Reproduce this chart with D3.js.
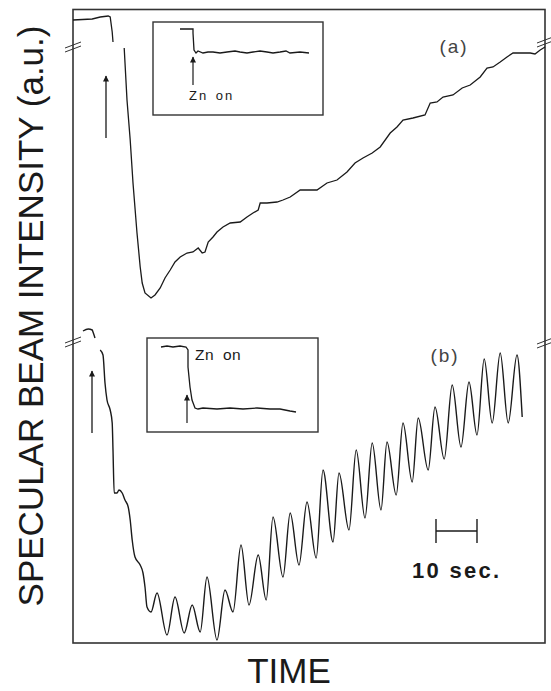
<!DOCTYPE html>
<html>
<head>
<meta charset="utf-8">
<script src="https://cdn.jsdelivr.net/npm/d3@7"></script>
<style>
  body { margin: 0; background: #fff; }
  text { font-family: "Liberation Sans", Arial, sans-serif; }
</style>
</head>
<body>
<div id="chart-area"></div>
<script>
// trace (a): time in sec, intensity in a.u. (null = gap in the recorded line)
var timeA = [0, 4.8, 6.8, 8.8, 9.3, 9.8, 10, 11, 12.8, 13.5, 14.3, 15, 16, 16.8, 17.3, 18,
  19.5, 20.5, 21.8, 23, 24.3, 25.5, 26.8, 28.5, 30, 31.3, 32.3, 33, 33.8, 35, 36, 37.5, 39.3, 41.8,
  43.5, 45, 46.3, 46.8, 48.5, 51, 52.5, 54.3, 56.8, 61, 63.5, 66, 68.5, 70.5, 72.5, 74.8, 76.8, 79.3,
  81, 82.5, 85, 88, 89.3, 91, 92.5, 95, 97.3, 99.3, 101.8, 103.5, 105, 106.8, 108.5, 110, 111.8, 114.3,
  115.5, 116.8, 118]
var intensityA = [290, 291, 293, 294, 293, 278, 268, null, 262, 210, 170, 127, 77, 43, 27, 17,
  12, 15, 22, 32, 40, 48, 53, 57, 58, 62, 57, 58, 68, 73, 78, 83, 87, 88,
  93, 97, 100, 107, 107, 108, 110, 113, 120, 120, 127, 130, 138, 147, 152, 157, 163, 177,
  183, 190, 192, 195, 207, 208, 213, 215, 222, 225, 233, 242, 243, 248, 253, 257, 257, 257,
  256, 260, 263]

// trace (b)
var timeB = [2.5, 3.8, 4.8, 5, 5.5, 6.2, 6.8, 7.5, 8, 8.5, 9.3, 9.8, 10, 10.3,
  11, 11.5, 12.3, 13, 13.8, 14.3, 14.8, 15.5, 16.8, 17.5, 18, 18.5, 19.5,
  21, 23.5, 25.5, 27.8, 29.8, 31.8, 33.5, 36, 38, 40,
  42, 44, 46.3, 48.3, 50, 52.5, 54.3, 56.5, 58.5, 60.8,
  62.5, 65, 66.5, 69, 70.8, 73, 74.8, 77, 78.5, 80.8,
  82.5, 84.8, 86.3, 88.8, 90.5, 92.8, 94.8, 97, 99, 101,
  102.8, 104.8, 106.8, 108.8, 111, 112.3]
var intensityB = [312, 314, 313, 311, 305, null, 293, 288, 260, 243, 233, 220, 193, 150,
  150, 153, 150, 143, 136, 123, 103, 86, 78, 70, 56, 36, 31,
  50, 8, 46, 10, 38, 11, 66, 3, 53, 31,
  98, 38, 88, 43, 126, 66, 130, 78, 141, 85,
  173, 101, 170, 113, 193, 125, 200, 133, 201, 148,
  220, 161, 225, 173, 236, 184, 258, 196, 261, 208,
  284, 220, 290, 220, 288, 226]

// insets
var insetTimeA = [27, 40, 40, 41, 43, 45, 50, 55, 60, 67, 74, 82, 87, 94, 100, 107, 114, 120, 127, 133, 137, 147, 156]
var insetIntensityA = [86, 86, 82, 65, 62, 64, 62, 63, 63, 62, 63, 64, 63, 62, 63, 64, 63, 62, 63, 64, 62, 63, 62]
var insetTimeB = [14, 20, 26, 33, 39, 41, 41, 43, 45, 48, 51, 56, 70, 83, 96, 110, 123, 133, 143, 149]
var insetIntensityB = [85, 86, 85, 86, 85, 82, 65, 45, 32, 24, 23, 24, 23, 24, 23, 24, 23, 23, 21, 20]

var panelLabels = ["(a)", "(b)"]
var insetLabel = "Zn on"
var scaleLabel = "10 sec."
var yLabel = "SPECULAR BEAM INTENSITY (a.u.)"
var xLabel = "TIME"

var W = 551, H = 691
var frame = { left: 73, right: 545, top: 9.5, bottom: 643 }
var ink = "#1a1a1a"

var svg = d3.select("#chart-area")
  .append("svg")
  .attr("width", W)
  .attr("height", H)

svg.append("rect").attr("width", W).attr("height", H).attr("fill", "#fff")

// arrow head
svg.append("defs").append("marker")
  .attr("id", "head")
  .attr("viewBox", "0 0 10 10")
  .attr("refX", 9).attr("refY", 5)
  .attr("markerWidth", 7).attr("markerHeight", 6)
  .attr("markerUnits", "userSpaceOnUse")
  .attr("orient", "auto")
  .append("path")
  .attr("d", "M0,0L10,5L0,10Z")
  .attr("fill", ink)

var x = d3.scaleLinear().domain([0, 118]).range([frame.left, frame.right])
var yA = d3.scaleLinear().domain([0, 300]).range([310, 10])
var yB = d3.scaleLinear().domain([0, 320]).range([643, 323])

// frame
svg.append("rect")
  .attr("x", frame.left).attr("y", frame.top)
  .attr("width", frame.right - frame.left)
  .attr("height", frame.bottom - frame.top)
  .attr("fill", "none")
  .attr("stroke", "#333")
  .attr("stroke-width", 1.6)

// axis break marks
function breakMark(bx, by) {
  [0, 4].forEach(function(off) {
    svg.append("line")
      .attr("x1", bx - 8).attr("y1", by + 3 + off)
      .attr("x2", bx + 8).attr("y2", by - 3 + off)
      .attr("stroke", "#333")
      .attr("stroke-width", 1)
  })
}
breakMark(frame.left, 45)
breakMark(frame.left, 340)
breakMark(frame.right, 40)
breakMark(frame.right, 341)

// traces
var lineA = d3.line()
  .defined(d => d[1] != null)
  .x(d => x(d[0]))
  .y(d => yA(d[1]))

var lineB = d3.line()
  .defined(d => d[1] != null)
  .x(d => x(d[0]))
  .y(d => yB(d[1]))
  .curve(d3.curveMonotoneX)

svg.append("path")
  .datum(d3.zip(timeA, intensityA))
  .attr("d", lineA)
  .attr("fill", "none")
  .attr("stroke", ink)
  .attr("stroke-width", 1.3)

svg.append("path")
  .datum(d3.zip(timeB, intensityB))
  .attr("d", lineB)
  .attr("fill", "none")
  .attr("stroke", ink)
  .attr("stroke-width", 1.4)

// big arrows marking Zn on
svg.append("line")
  .attr("x1", x(8.25)).attr("y1", yA(172))
  .attr("x2", x(8.25)).attr("y2", yA(234))
  .attr("stroke", ink).attr("stroke-width", 1.3)
  .attr("marker-end", "url(#head)")

svg.append("line")
  .attr("x1", x(4.75)).attr("y1", yB(210))
  .attr("x2", x(4.75)).attr("y2", yB(272))
  .attr("stroke", ink).attr("stroke-width", 1.3)
  .attr("marker-end", "url(#head)")

// panel labels
svg.append("text")
  .text(panelLabels[0])
  .attr("x", 454).attr("y", 53)
  .attr("text-anchor", "middle")
  .attr("font-size", "19px")
  .attr("letter-spacing", "2px")
  .attr("fill", "#444")

svg.append("text")
  .text(panelLabels[1])
  .attr("x", 445).attr("y", 362)
  .attr("text-anchor", "middle")
  .attr("font-size", "19px")
  .attr("letter-spacing", "2px")
  .attr("fill", "#444")

// insets
function inset(box, tx, ty, arrow, label) {
  var ix = d3.scaleLinear().domain([0, box.x1 - box.x0]).range([box.x0, box.x1])
  var iy = d3.scaleLinear().domain([0, box.y1 - box.y0]).range([box.y1, box.y0])
  svg.append("rect")
    .attr("x", box.x0).attr("y", box.y0)
    .attr("width", box.x1 - box.x0).attr("height", box.y1 - box.y0)
    .attr("fill", "#fff")
    .attr("stroke", "#333")
    .attr("stroke-width", 1.4)
  var l = d3.line().x(d => ix(d[0])).y(d => iy(d[1]))
  svg.append("path")
    .datum(d3.zip(tx, ty))
    .attr("d", l)
    .attr("fill", "none")
    .attr("stroke", ink)
    .attr("stroke-width", 1.3)
  svg.append("line")
    .attr("x1", ix(arrow[0])).attr("y1", iy(arrow[1]))
    .attr("x2", ix(arrow[0])).attr("y2", iy(arrow[2]))
    .attr("stroke", ink).attr("stroke-width", 1.2)
    .attr("marker-end", "url(#head)")
  svg.append("text")
    .text(insetLabel)
    .attr("x", ix(label[0])).attr("y", iy(label[1]))
    .attr("font-size", label[2] + "px")
    .attr("letter-spacing", label[3] + "px")
    .attr("word-spacing", label[4] + "px")
    .attr("fill", ink)
}

inset({ x0: 153, x1: 323, y0: 22, y1: 115 }, insetTimeA, insetIntensityA,
  [40, 30, 58], [36, 15, 13, 2, 2])
inset({ x0: 147, x1: 318, y0: 338, y1: 432 }, insetTimeB, insetIntensityB,
  [40, 9, 37], [48, 72, 15.5, 0.5, 4])

// 10 sec scale bar
var barY = yB(112)
var bar = svg.append("g").attr("stroke", ink).attr("stroke-width", 1.4)
bar.append("line").attr("x1", x(90.75)).attr("x2", x(101)).attr("y1", barY).attr("y2", barY)
bar.append("line").attr("x1", x(90.75)).attr("x2", x(90.75)).attr("y1", barY - 12).attr("y2", barY + 12)
bar.append("line").attr("x1", x(101)).attr("x2", x(101)).attr("y1", barY - 12).attr("y2", barY + 12)

svg.append("text")
  .text(scaleLabel)
  .attr("x", 412).attr("y", 578)
  .attr("font-size", "22px")
  .attr("font-weight", "bold")
  .attr("textLength", 87)
  .attr("fill", ink)

// axis labels
svg.append("text")
  .text(yLabel)
  .attr("transform", "translate(43,316) rotate(-90)")
  .attr("text-anchor", "middle")
  .attr("font-size", "35px")
  .attr("fill", ink)

svg.append("text")
  .text(xLabel)
  .attr("x", 289).attr("y", 683)
  .attr("text-anchor", "middle")
  .attr("font-size", "35px")
  .attr("fill", ink)
</script>
</body>
</html>
